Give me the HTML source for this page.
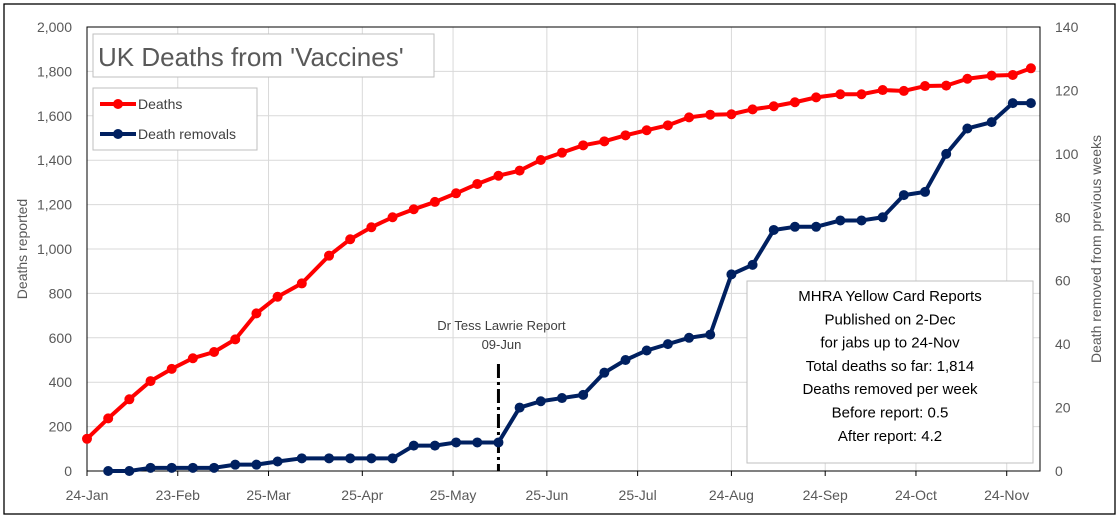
<!DOCTYPE html>
<html><head><meta charset="utf-8"><style>
html,body{margin:0;padding:0;background:#fff}
svg{display:block;font-family:"Liberation Sans",sans-serif}
</style></head><body>
<svg id="c" width="1120" height="518"></svg>
<script>
const tickDays=[0,30,60,91,121,152,182,213,244,274,304];
const tickLabels=['24-Jan','23-Feb','25-Mar','25-Apr','25-May','25-Jun','25-Jul','24-Aug','24-Sep','24-Oct','24-Nov'];
const deathDays=[0,7,14,21,28,35,42,49,56,63,71,80,87,94,101,108,115,122,129,136,143,150,157,164,171,178,185,192,199,206,213,220,227,234,241,249,256,263,270,277,284,291,299,306,312];
const deaths=[145,237,323,405,460,508,536,593,710,785,845,970,1044,1098,1143,1179,1212,1251,1293,1330,1353,1401,1434,1467,1485,1512,1535,1557,1593,1605,1607,1629,1643,1661,1683,1697,1697,1716,1712,1734,1736,1767,1781,1784,1814];
const removalDays=deathDays.slice(1);
const removals=[0,0,1,1,1,1,2,2,3,4,4,4,4,4,8,8,9,9,9,20,22,23,24,31,35,38,40,42,43,62,65,76,77,77,79,79,80,87,88,100,108,110,116,116];
const leftTicks=[0,200,400,600,800,1000,1200,1400,1600,1800,2000];
const rightTicks=[0,20,40,60,80,100,120,140];
const reportDay=136;

const NS='http://www.w3.org/2000/svg',svg=document.getElementById('c');
const X0=87,X1=1040,Y0=471,Y1=27,DMAX=315;
const x=d=>X0+(X1-X0)*d/DMAX, yl=v=>Y0-(Y0-Y1)*v/2000, yr=v=>Y0-(Y0-Y1)*v/140;
function el(t,a,p){const e=document.createElementNS(NS,t);for(const k in a)e.setAttribute(k,a[k]);(p||svg).appendChild(e);return e;}
function tx(s,a){const e=el('text',a);e.textContent=s;return e;}
let e;
e=el('rect',{x:4,y:4,width:1111,height:510,fill:'#fff',stroke:'#000','stroke-width':1.3});

leftTicks.forEach(v=>{
  e=el('line',{x1:X0,x2:X1,y1:yl(v),y2:yl(v),stroke:'#d9d9d9'});
  
  e=tx(v.toLocaleString('en-US'),{x:72,y:yl(v)+5,'text-anchor':'end','font-size':14,fill:'#595959'});
  
});
rightTicks.forEach(v=>{
  e=tx(String(v),{x:1055,y:yr(v)+5,'font-size':14,fill:'#595959'});
  
});
tickDays.forEach((d,i)=>{
  e=el('line',{x1:x(d),x2:x(d),y1:Y1,y2:Y0,stroke:'#d9d9d9'});
  
  e=el('line',{x1:x(d),x2:x(d),y1:Y0,y2:Y0+5,stroke:'#000'});
  
  e=tx(tickLabels[i],{x:x(d),y:500,'text-anchor':'middle','font-size':14,fill:'#595959'});
  
});
e=el('rect',{x:X0,y:Y1,width:X1-X0,height:Y0-Y1,fill:'none',stroke:'#000','stroke-width':1});

e=tx('Deaths reported',{transform:'translate(27,249) rotate(-90)','text-anchor':'middle','font-size':14,fill:'#595959'});

e=tx('Death removed from previous weeks',{transform:'translate(1101,249) rotate(-90)','text-anchor':'middle','font-size':14,fill:'#595959'});

// report line
e=el('line',{x1:x(reportDay),x2:x(reportDay),y1:364,y2:Y0,stroke:'#000','stroke-width':3,'stroke-dasharray':'14,4,3,4'});

e=tx('Dr Tess Lawrie Report',{x:x(reportDay)+3,y:330,'text-anchor':'middle','font-size':13,fill:'#404040'});

e=tx('09-Jun',{x:x(reportDay)+3,y:349,'text-anchor':'middle','font-size':13,fill:'#404040'});

function series(days,vals,yf,col,name){
  const pts=days.map((d,i)=>x(d)+','+yf(vals[i])).join(' ');
  e=el('polyline',{points:pts,fill:'none',stroke:col,'stroke-width':4,'stroke-linejoin':'round'});
  
  days.forEach((d,i)=>{
    e=el('circle',{cx:x(d),cy:yf(vals[i]),r:5,fill:col});
    
  });
}
series(deathDays,deaths,yl,'#ff0000','deaths');
series(removalDays,removals,yr,'#002060','removals');
// title
e=el('rect',{x:93,y:34,width:341,height:43,fill:'#fff',stroke:'#bfbfbf'});

e=tx("UK Deaths from 'Vaccines'",{x:98,y:66,'font-size':26,fill:'#595959'});

// legend
e=el('rect',{x:93,y:88,width:164,height:62,fill:'#fff',stroke:'#bfbfbf'});

[['Deaths','#ff0000',104],['Death removals','#002060',134]].forEach(([t,c,yy])=>{
  e=el('line',{x1:100,x2:136,y1:yy,y2:yy,stroke:c,'stroke-width':4});
  
  e=el('circle',{cx:118,cy:yy,r:5,fill:c});
  
  e=tx(t,{x:138,y:yy+5,'font-size':14,fill:'#404040'});
  
});
// info box
e=el('rect',{x:747,y:281,width:286,height:182,fill:'#fff',stroke:'#bfbfbf'});

['MHRA Yellow Card Reports','Published on 2-Dec','for jabs up to 24-Nov','Total deaths so far: 1,814','Deaths removed per week','Before report: 0.5','After report: 4.2'].forEach((t,i)=>{
  e=tx(t,{x:890,y:301+i*23.3,'text-anchor':'middle','font-size':15,fill:'#000'});
  
});
</script>
</body></html>
